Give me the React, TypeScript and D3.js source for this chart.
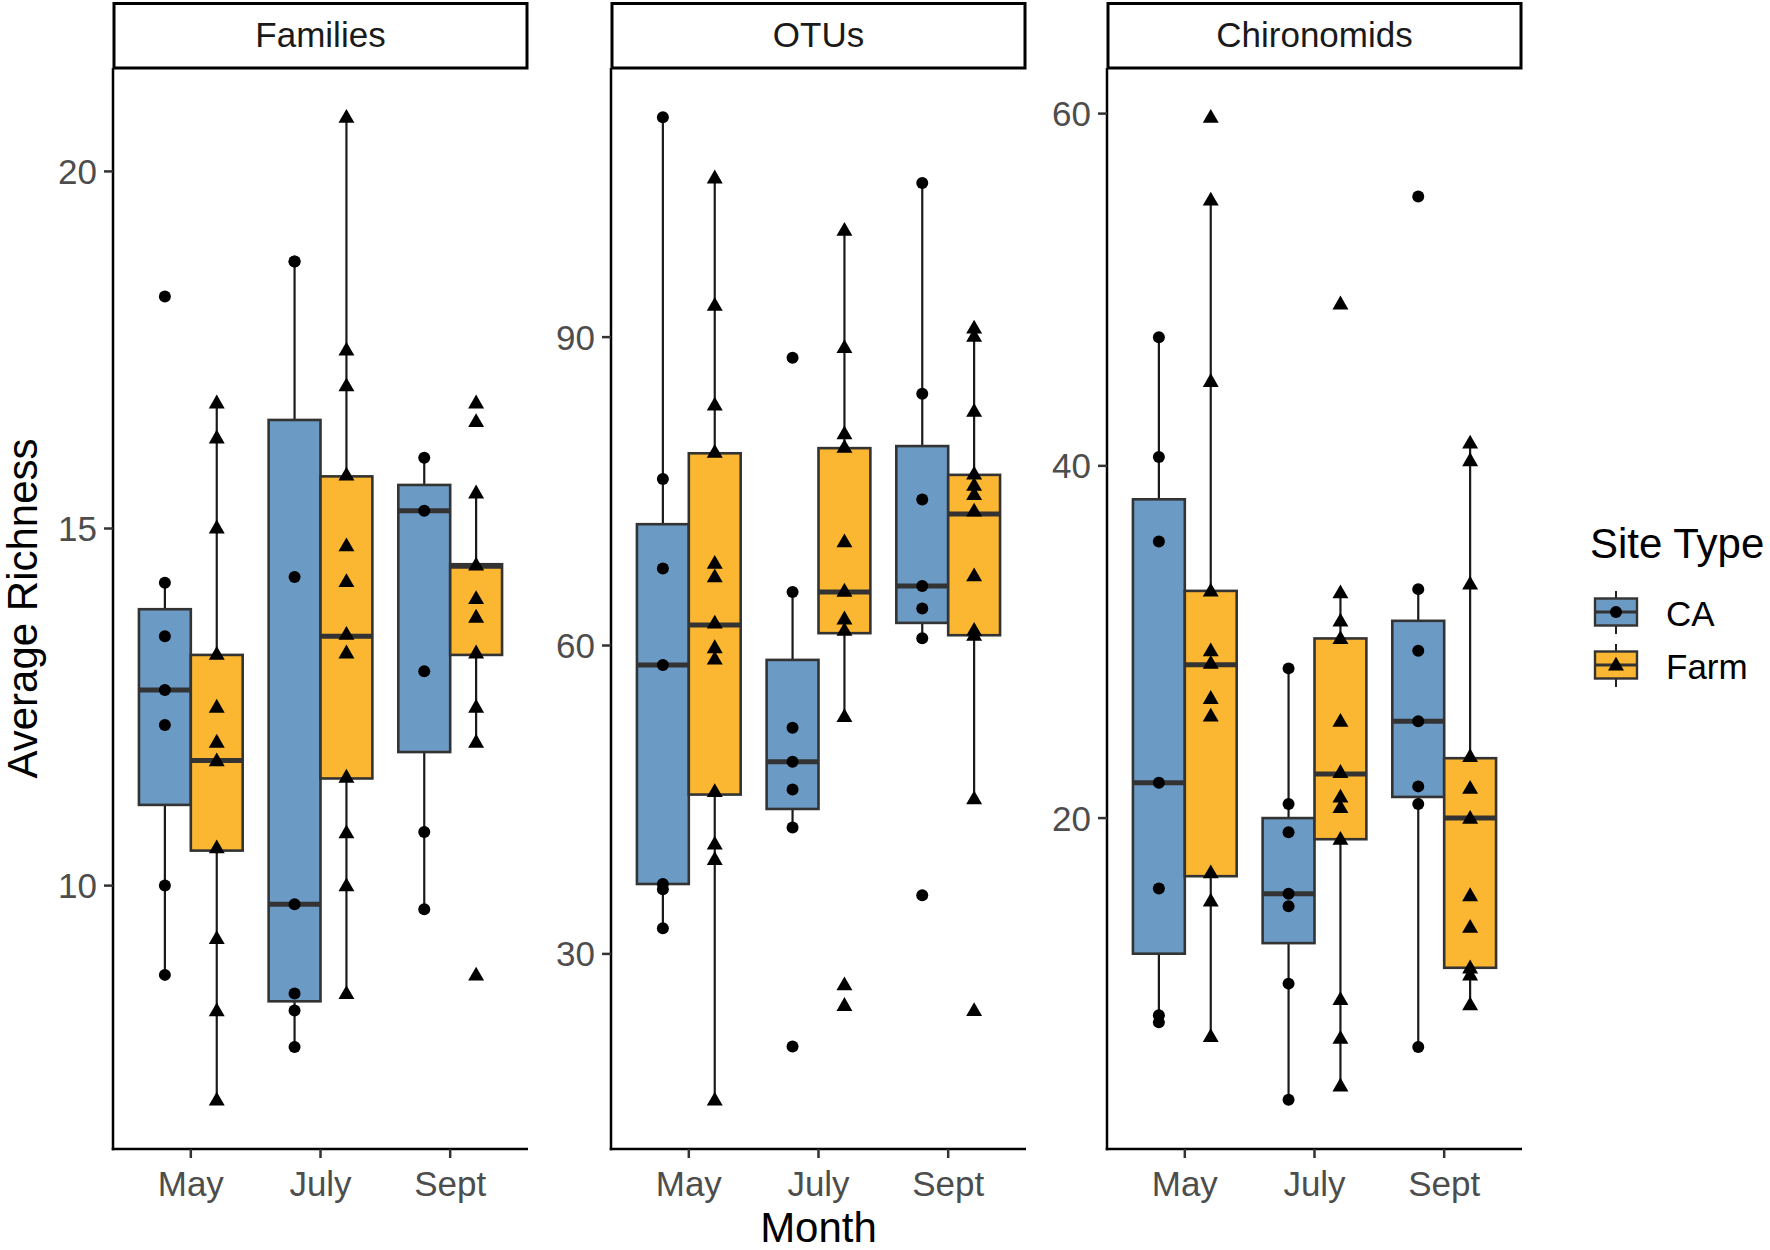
import React from "react";
import * as d3 from "d3";

// ---------- data ----------
const months = ["May", "July", "Sept"];
const siteTypes = ["CA", "Farm"];
const panelNames = ["Families", "OTUs", "Chironomids"];

const familiesTicks = [10, 15, 20];
const otusTicks = [30, 60, 90];
const chironomidsTicks = [20, 40, 60];

// box stats per month: [lowerWhisker, q1, median, q3, upperWhisker]
const familiesCABox = [
  [8.75, 11.13, 12.74, 13.87, 14.24],
  [7.74, 8.38, 9.74, 16.52, 18.74],
  [9.67, 11.87, 15.25, 15.61, 15.99],
];
const familiesFarmBox = [
  [7.0, 10.49, 11.75, 13.23, 16.76],
  [8.49, 11.5, 13.49, 15.73, 20.76],
  [12.01, 13.23, 14.47, 14.5, 15.5],
];
const familiesCAPoints = [
  [18.25, 14.24, 13.49, 12.74, 12.25, 10.0, 8.75],
  [18.74, 18.74, 14.32, 9.74, 8.49, 8.25, 7.74],
  [15.99, 15.25, 13.0, 10.75, 9.67],
];
const familiesFarmPoints = [
  [16.76, 16.27, 15.01, 13.24, 12.5, 12.01, 11.75, 10.53, 9.26, 8.25, 7.0],
  [20.76, 17.5, 17.0, 15.75, 14.76, 14.26, 13.52, 13.26, 11.52, 10.74, 10.0, 8.49],
  [16.76, 16.5, 15.5, 14.49, 14.02, 13.76, 13.26, 12.5, 12.01, 8.75],
];

const otusCABox = [
  [32.5, 36.8, 58.1, 71.8, 111.4],
  [42.3, 44.1, 48.7, 58.6, 65.2],
  [60.7, 62.2, 65.8, 79.4, 105.0],
];
const otusFarmBox = [
  [15.8, 45.5, 62.0, 78.7, 105.5],
  [53.1, 61.2, 65.2, 79.2, 100.4],
  [45.1, 61.0, 72.8, 76.6, 90.9],
];
const otusCAPoints = [
  [111.4, 76.2, 67.5, 58.1, 36.8, 36.3, 32.5],
  [88.0, 65.2, 52.0, 48.7, 46.0, 42.3, 21.0],
  [105.0, 84.5, 74.2, 65.8, 63.6, 60.7, 35.7],
];
const otusFarmPoints = [
  [105.5, 93.1, 83.4, 78.8, 68.0, 66.7, 62.2, 59.8, 58.7, 45.8, 40.7, 39.2, 15.8],
  [100.4, 89.0, 80.6, 79.3, 70.1, 65.3, 62.6, 61.5, 53.1, 27.0, 25.0],
  [90.9, 90.1, 82.8, 76.7, 75.6, 74.7, 73.1, 66.8, 61.5, 61.0, 45.1, 24.5],
];

const chironomidsCABox = [
  [8.6, 12.3, 22.0, 38.1, 47.3],
  [4.0, 12.9, 15.7, 20.0, 28.5],
  [7.0, 21.2, 25.5, 31.2, 33.0],
];
const chironomidsFarmBox = [
  [7.6, 16.7, 28.7, 32.9, 55.1],
  [4.8, 18.8, 22.5, 30.2, 32.8],
  [9.4, 11.5, 20.0, 23.4, 41.3],
];
const chironomidsCAPoints = [
  [47.3, 40.5, 35.7, 22.0, 16.0, 8.8, 8.4],
  [28.5, 20.8, 19.2, 15.7, 15.0, 10.6, 4.0],
  [55.3, 33.0, 29.5, 25.5, 21.8, 20.8, 7.0],
];
const chironomidsFarmPoints = [
  [59.8, 55.1, 44.8, 32.9, 29.5, 28.8, 26.8, 25.8, 16.9, 15.3, 7.6],
  [49.2, 32.8, 31.2, 30.2, 25.5, 22.6, 21.2, 20.6, 18.8, 9.7, 7.5, 4.8],
  [41.3, 40.3, 33.3, 23.5, 21.7, 20.0, 15.6, 13.8, 11.5, 11.1, 9.4],
];

// ---------- style ----------
const FONT = "'Liberation Sans', Arial, Helvetica, sans-serif";
const fillColors: Record<string, string> = { CA: "#6B9AC4", Farm: "#FBB632" };
const W = 1770;
const H = 1250;
const panelLefts = [113, 611, 1107];
const panelWidth = 415;
const plotTop = 68;
const plotBottom = 1149;
const stripTop = 2;

const panels = [
  { name: panelNames[0], ticks: familiesTicks, boxes: [familiesCABox, familiesFarmBox], points: [familiesCAPoints, familiesFarmPoints] },
  { name: panelNames[1], ticks: otusTicks, boxes: [otusCABox, otusFarmBox], points: [otusCAPoints, otusFarmPoints] },
  { name: panelNames[2], ticks: chironomidsTicks, boxes: [chironomidsCABox, chironomidsFarmBox], points: [chironomidsCAPoints, chironomidsFarmPoints] },
];

const trianglePath = d3.symbol(d3.symbolTriangle, 110)()!;

function Marker({ site, x, y }: { site: string; x: number; y: number }) {
  if (site === "CA") return <circle cx={x} cy={y} r={6} fill="#000" />;
  return <path d={trianglePath} transform={`translate(${x},${y + 1})`} fill="#000" />;
}

function Panel({ p, left }: { p: any; left: number }) {
  const all: number[] = [];
  p.boxes.forEach((b: number[][]) => b.forEach((s) => all.push(...s)));
  p.points.forEach((pp: number[][]) => pp.forEach((s) => all.push(...s)));
  const [mn, mx] = d3.extent(all) as [number, number];
  const pad = (mx - mn) * 0.05;
  const y = d3.scaleLinear().domain([mn - pad, mx + pad]).range([plotBottom, plotTop]);
  const x = d3.scalePoint<string>().domain(months).range([left, left + panelWidth]).padding(0.6);
  const step = x.step();
  const boxW = 0.4 * step;

  return (
    <g>
      {/* strip */}
      <rect x={left + 1} y={stripTop + 1.5} width={panelWidth - 2} height={plotTop - stripTop - 1.5} fill="#fff" stroke="#000" strokeWidth={3} />
      <text x={left + panelWidth / 2} y={(stripTop + plotTop) / 2 + 12} textAnchor="middle" fontSize={35} fill="#1A1A1A" fontFamily={FONT}>
        {p.name}
      </text>

      {/* boxes */}
      {siteTypes.map((site, si) =>
        months.map((m, mi) => {
          const cx = (x(m) as number) + (si === 0 ? -0.2 : 0.2) * step;
          const [lo, q1, med, q3, hi] = p.boxes[si][mi];
          return (
            <g key={site + m}>
              <line x1={cx} x2={cx} y1={y(hi)} y2={y(q3)} stroke="#1A1A1A" strokeWidth={2.2} />
              <line x1={cx} x2={cx} y1={y(q1)} y2={y(lo)} stroke="#1A1A1A" strokeWidth={2.2} />
              <rect x={cx - boxW / 2} y={y(q3)} width={boxW} height={y(q1) - y(q3)} fill={fillColors[site]} stroke="#333" strokeWidth={2.6} />
              <line x1={cx - boxW / 2} x2={cx + boxW / 2} y1={y(med)} y2={y(med)} stroke="#333" strokeWidth={5} />
            </g>
          );
        })
      )}
      {/* points */}
      {siteTypes.map((site, si) =>
        months.map((m, mi) => {
          const cx = (x(m) as number) + (si === 0 ? -0.2 : 0.2) * step;
          return p.points[si][mi].map((v: number, k: number) => (
            <Marker key={site + m + k} site={site} x={cx} y={y(v)} />
          ));
        })
      )}

      {/* axes */}
      <line x1={left} x2={left} y1={plotTop} y2={plotBottom + 1.25} stroke="#000" strokeWidth={2.5} />
      <line x1={left - 1.25} x2={left + panelWidth} y1={plotBottom} y2={plotBottom} stroke="#000" strokeWidth={2.5} />
      {p.ticks.map((t: number) => (
        <g key={t}>
          <line x1={left - 9} x2={left} y1={y(t)} y2={y(t)} stroke="#333" strokeWidth={2.5} />
          <text x={left - 16} y={y(t)} dy="0.36em" textAnchor="end" fontSize={35} fill="#4D4D4D" fontFamily={FONT}>
            {t}
          </text>
        </g>
      ))}
      {months.map((m) => (
        <g key={m}>
          <line x1={x(m)} x2={x(m)} y1={plotBottom} y2={plotBottom + 9} stroke="#333" strokeWidth={2.5} />
          <text x={x(m)} y={1196} textAnchor="middle" fontSize={35} fill="#4D4D4D" fontFamily={FONT}>
            {m}
          </text>
        </g>
      ))}
    </g>
  );
}

export default function App() {
  const legendX = 1595;
  const keyW = 42;
  const keyH = 27;
  const keyCenters = [612, 665];
  return (
    <svg width={W} height={H} style={{ position: "absolute", left: 0, top: 0, background: "#fff" }}>
      <rect width={W} height={H} fill="#fff" />
      {panels.map((p, i) => (
        <Panel key={p.name} p={p} left={panelLefts[i]} />
      ))}
      {/* axis titles */}
      <text transform={`translate(37,${(plotTop + plotBottom) / 2}) rotate(-90)`} textAnchor="middle" fontSize={42} fill="#000" fontFamily={FONT}>
        Average Richness
      </text>
      <text x={panelLefts[1] + panelWidth / 2} y={1242} textAnchor="middle" fontSize={42} fill="#000" fontFamily={FONT}>
        Month
      </text>
      {/* legend */}
      <text x={1590} y={558} fontSize={42} fill="#000" fontFamily={FONT}>
        Site Type
      </text>
      {siteTypes.map((site, i) => {
        const cy = keyCenters[i];
        const cx = legendX + keyW / 2;
        return (
          <g key={site}>
            <line x1={cx} x2={cx} y1={cy - 21} y2={cy + 22} stroke="#222" strokeWidth={2} />
            <rect x={legendX} y={cy - keyH / 2} width={keyW} height={keyH} fill={fillColors[site]} stroke="#333" strokeWidth={2.4} />
            <line x1={legendX} x2={legendX + keyW} y1={cy} y2={cy} stroke="#333" strokeWidth={3} />
            <Marker site={site} x={cx} y={cy} />
            <text x={1666} y={cy + 14} fontSize={35} fill="#000" fontFamily={FONT}>
              {site}
            </text>
          </g>
        );
      })}
    </svg>
  );
}
